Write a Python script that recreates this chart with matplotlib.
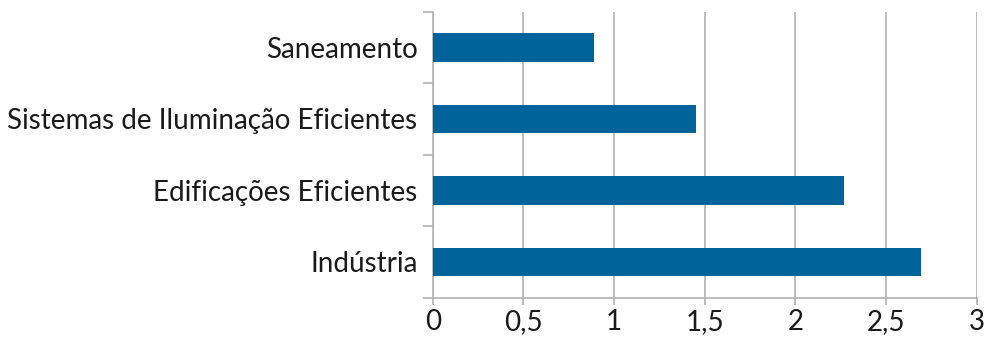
import matplotlib.pyplot as plt
from matplotlib.ticker import FuncFormatter, FixedLocator

plt.rcParams['font.family'] = ['Lato', 'DejaVu Sans']

categorias = ['Indústria', 'Edificações Eficientes',
              'Sistemas de Iluminação Eficientes', 'Saneamento']
valores = [2.69, 2.27, 1.45, 0.89]
xticks = [0, 0.5, 1, 1.5, 2, 2.5, 3]

azul = '#00639a'
cinza = '#b2b2b2'

fig = plt.figure(figsize=(9.87, 3.37), dpi=100)
ax = fig.add_axes([0.4384, 0.1166, 0.9896 - 0.4384, 0.9653 - 0.1166])

pos = range(len(categorias))
ax.barh(pos, valores, height=0.4, color=azul, zorder=3)

ax.set_xlim(0, 3)
ax.set_ylim(-0.5, len(categorias) - 0.5)
ax.set_xticks(xticks)
ax.xaxis.set_major_formatter(FuncFormatter(lambda v, p: ('%g' % v).replace('.', ',')))
ax.set_yticks(list(pos))
ax.set_yticklabels(categorias)
ax.yaxis.set_minor_locator(FixedLocator([i - 0.5 for i in range(len(categorias) + 1)]))

ax.grid(axis='x', color=cinza, linewidth=1.2, zorder=0)
for s in ['top', 'right']:
    ax.spines[s].set_visible(False)
for s in ['left', 'bottom']:
    ax.spines[s].set_color(cinza)
    ax.spines[s].set_linewidth(1.2)

ax.tick_params(axis='y', which='major', length=0, pad=11, labelsize=20, labelcolor='#1a1a1a')
ax.tick_params(axis='y', which='minor', length=7, width=1.2, color=cinza)
ax.tick_params(axis='x', length=5, width=1.2, color=cinza, pad=3, labelsize=20, labelcolor='#1a1a1a')

fig.savefig('out.png', dpi=100)
